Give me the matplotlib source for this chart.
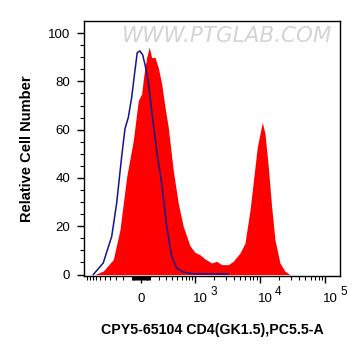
import numpy as np
import matplotlib
matplotlib.use("Agg")
import matplotlib.pyplot as plt

plt.rcParams['font.family'] = ['Liberation Sans', 'DejaVu Sans']

# intensidad (CD4 PC5.5-A) y cuentas relativas
rojo_x = [-740, -530, -345, -246, -159, -83, -29, 7, 32, 61, 90, 117, 156, 197,
          242, 289, 339, 426, 524, 639, 824, 994, 1194, 1430, 1821, 2178, 2606,
          3288, 3924, 4972, 5930, 7090, 8460, 9160, 10080, 10940, 12030, 13520,
          15220, 17110, 20400, 24300, 29050]
rojo_y = [0, 1.5, 6.2, 18.5, 40.5, 55.5, 72, 74.8, 83, 89.8, 94.2, 89.8, 90, 85.7,
          78.9, 69.3, 61, 43, 29.5, 20, 12, 9.2, 8.2, 6.5, 4.8, 5.5, 4.1,
          4.1, 5.5, 8.9, 13, 26.7, 44.6, 52.8, 58.3, 63, 58.3, 44.6,
          28, 14.4, 4.8, 1.4, 0]

azul_x = [-785, -533, -371, -293, -223, -180, -140, -101, -65, -40, -11, 18, 43,
          79, 117, 176, 242, 315, 397, 491, 639, 933, 3240]
azul_y = [0, 4.8, 15.8, 29.5, 48.7, 60.4, 65, 73.4, 84.4, 91.9, 92.6, 91, 87,
          80, 68, 51.4, 37.7, 19.9, 7.5, 2.7, 1, 0.3, 0.2]

ticks_x = [0, 1e3, 1e4, 1e5]
exponentes = ['', '3', '4', '5']

C = 303.0
def adelante(x):
    return np.arcsinh(np.asarray(x) / C)
def atras(t):
    return C * np.sinh(np.asarray(t))

fig = plt.figure(figsize=(3.61, 3.56), dpi=100)
ax = fig.add_axes([0.2327, 0.2247, 0.7091, 0.7163])
ax.set_xscale('function', functions=(adelante, atras))

ax.fill_between(rojo_x, rojo_y, 0, color='#ff0000', lw=0)
ax.plot(azul_x, azul_y, color='#14148c', lw=1.1)

ax.set_xlim(-1109, 169400)
ax.set_ylim(-0.6, 105)

ax.set_xticks(ticks_x)
ax.set_xticklabels([])
menores = []
for d in [10, 100]:
    for m in range(1, 10):
        menores += [m * d, -m * d]
for d in [1000, 10000]:
    for m in range(2, 10):
        menores.append(m * d)
menores += [-1000]
ax.set_xticks(menores, minor=True)

# etiquetas del eje x: "10" con exponente del mismo tamaño casi
for t, e in zip(ticks_x, exponentes):
    if e == '':
        ax.annotate('0', xy=(t, 0), xycoords=('data', 'axes fraction'),
                    xytext=(0, -18.7), textcoords='offset points',
                    ha='center', va='baseline', fontsize=9.5)
    else:
        ax.annotate('10', xy=(t, 0), xycoords=('data', 'axes fraction'),
                    xytext=(-1.4, -18.7), textcoords='offset points',
                    ha='left', va='baseline', fontsize=9.5)
        ax.annotate(e, xy=(t, 0), xycoords=('data', 'axes fraction'),
                    xytext=(10.8, -13.7), textcoords='offset points',
                    ha='left', va='baseline', fontsize=8.5)

ax.set_yticks([0, 20, 40, 60, 80, 100])
ax.set_yticks(np.arange(0, 105, 5), minor=True)

ax.tick_params(which='major', length=5, width=1, labelsize=9.5, direction='out')
ax.tick_params(which='minor', length=3, width=0.8, direction='out')
ax.tick_params(axis='y', pad=5)

for s in ax.spines.values():
    s.set_linewidth(1)

ax.set_ylabel('Relative Cell Number', fontsize=10.5, fontweight='bold', labelpad=10)
ax.set_xlabel('CPY5-65104 CD4(GK1.5),PC5.5-A', fontsize=10.2, fontweight='bold')
ax.xaxis.set_label_coords(0.5, -0.185)

ax.text(0.559, 0.941, 'WWW.PTGLAB.COM', transform=ax.transAxes, ha='center', va='center',
        fontsize=15.5, color='#d4d4d4', family='DejaVu Sans', style='oblique')

fig.savefig('out.png', dpi=100)
